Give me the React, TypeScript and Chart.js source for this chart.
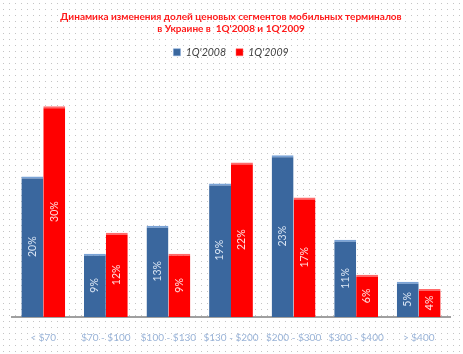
import React, { useEffect, useRef } from "react";
import { Chart, registerables } from "chart.js";

Chart.register(...registerables);

const categories = ["< $70", "$70 - $100", "$100 - $130", "$130 - $200", "$200 - $300", "$300 - $400", "> $400"];
const series2008 = [20, 9, 13, 19, 23, 11, 5];
const series2009 = [30, 12, 9, 22, 17, 6, 4];
const seriesNames = ["1Q'2008", "1Q'2009"];
const titleLines = [
  "Динамика изменения долей ценовых сегментов мобильных терминалов",
  "в Украине в  1Q'2008 и 1Q'2009",
];

const FONT = "Lato, 'Open Sans', sans-serif";

const dotsPlugin = {
  id: "dots",
  beforeDraw(chart: any) {
    const ctx = chart.ctx;
    ctx.save();
    ctx.fillStyle = "#ffffff";
    ctx.fillRect(0, 0, chart.width, chart.height);
    ctx.fillStyle = "#c4c4c4";
    for (let y = 3; y < chart.height; y += 6) {
      for (let x = 3; x < chart.width; x += 6) {
        ctx.fillRect(x, y, 1, 1);
      }
    }
    ctx.restore();
  },
};

const labelPlugin = {
  id: "vlabels",
  afterDatasetsDraw(chart: any) {
    const ctx = chart.ctx;
    ctx.save();
    ctx.font = "10.5px " + FONT;
    ctx.textAlign = "center";
    ctx.textBaseline = "middle";
    chart.data.datasets.forEach((ds: any, di: number) => {
      const meta = chart.getDatasetMeta(di);
      meta.data.forEach((bar: any, i: number) => {
        const v = ds.data[i];
        const cy = (bar.y + bar.base) / 2;
        ctx.save();
        ctx.translate(bar.x, cy);
        ctx.rotate(-Math.PI / 2);
        ctx.fillStyle = di === 0 ? "#dbe6f4" : "#ffe0e0";
        ctx.fillText(v + "%", 0, 0);
        ctx.restore();
      });
    });
    ctx.restore();
  },
};

export default function App() {
  const ref = useRef<HTMLCanvasElement | null>(null);
  useEffect(() => {
    document.body.style.margin = "0";
    const chart = new Chart(ref.current as HTMLCanvasElement, {
      type: "bar",
      data: {
        labels: categories,
        datasets: [
          {
            label: seriesNames[0],
            data: series2008,
            backgroundColor: "#3a679e",
            borderColor: "#7aa3d6",
            borderWidth: { top: 2, left: 0, right: 0, bottom: 0 },
            borderSkipped: false,
          },
          {
            label: seriesNames[1],
            data: series2009,
            backgroundColor: "#ff0000",
            borderColor: "#ff6a6a",
            borderWidth: { top: 2, left: 0, right: 0, bottom: 0 },
            borderSkipped: false,
          },
        ],
      },
      options: {
        animation: false,
        responsive: false,
        maintainAspectRatio: false,
        layout: { padding: { left: 12, right: 13, top: 0, bottom: 3 } },
        datasets: { bar: { categoryPercentage: 0.7, barPercentage: 1.0 } },
        plugins: {
          title: {
            display: true,
            text: titleLines,
            color: "#ff1a1a",
            font: { family: FONT, size: 10, weight: "bold" },
            padding: { top: 11, bottom: 2 },
            lineHeight: 1.45,
          },
          legend: {
            display: true,
            labels: {
              boxWidth: 7,
              boxHeight: 7,
              color: "#404040",
              font: { family: FONT, size: 10.5, style: "italic" },
              padding: 10,
            },
          },
          tooltip: { enabled: false },
        },
        scales: {
          x: {
            grid: { display: false },
            border: { display: true, color: "#a0a0a0", width: 2 },
            ticks: {
              color: "#9ab4d8",
              font: { family: FONT, size: 10 },
              maxRotation: 0,
              autoSkip: false,
              padding: 7,
            },
          },
          y: {
            display: false,
            min: 0,
            max: 35.5,
          },
        },
      },
      plugins: [dotsPlugin, labelPlugin],
    });
    return () => chart.destroy();
  }, []);
  return (
    <div style={{ width: 463, height: 354 }}>
      <canvas ref={ref} width={463} height={354} style={{ display: "block" }} />
    </div>
  );
}
